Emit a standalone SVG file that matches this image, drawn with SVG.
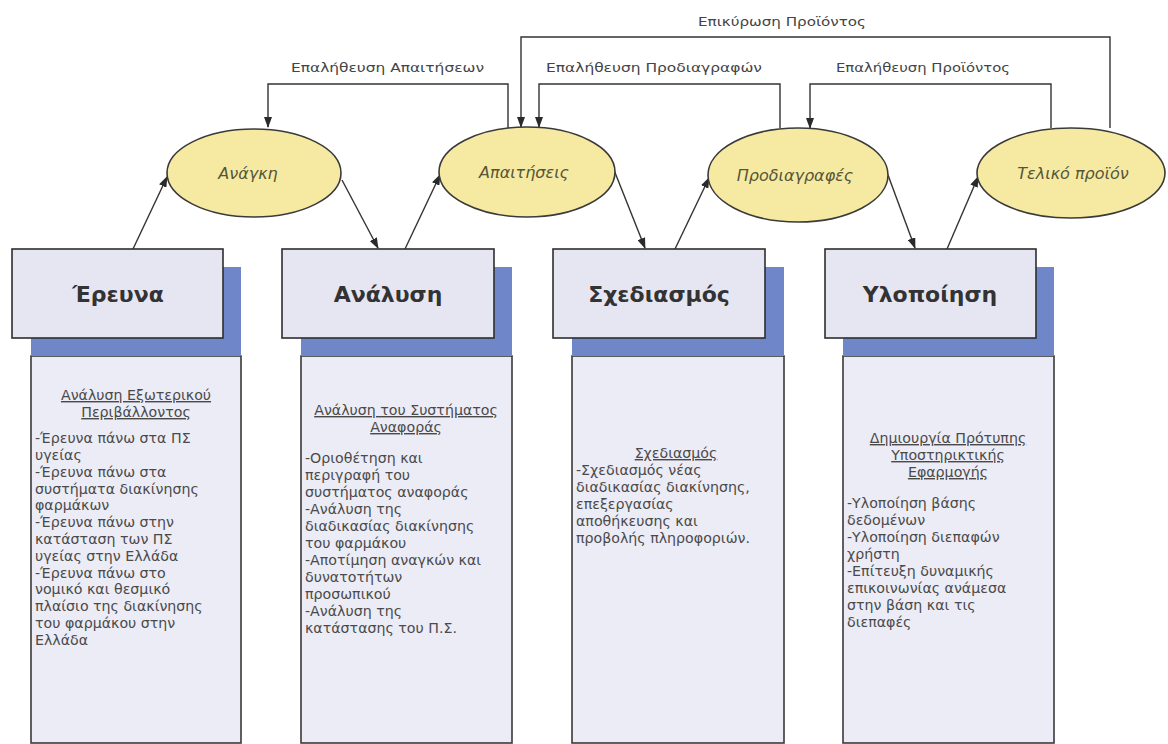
<svg xmlns="http://www.w3.org/2000/svg" width="1168" height="744" viewBox="0 0 1168 744">
<style>
.lbl{font-family:"DejaVu Sans",sans-serif;font-size:12px;fill:#444}
.ell{fill:#f6eaa2;stroke:#3a3a3a;stroke-width:1.6}
.etx{font-family:"DejaVu Sans",sans-serif;font-style:italic;font-size:16px;fill:#555538;text-anchor:middle}
.box{fill:#e6e6f3;stroke:#2e2e2e;stroke-width:1.6}
.shd{fill:#6f86c9}
.col{fill:#ececf6;stroke:#3a3a3a;stroke-width:1.6}
.htx{font-family:"DejaVu Sans",sans-serif;font-weight:bold;font-size:22px;fill:#333;text-anchor:middle}
.ctx{font-family:"DejaVu Sans",sans-serif;font-size:14.2px;fill:#4a4a4a}
.chd{text-anchor:middle;text-decoration:underline}
.con{fill:none;stroke:#333;stroke-width:1.4}
</style>
<defs>
<marker id="ah" markerUnits="userSpaceOnUse" markerWidth="11" markerHeight="8" refX="10" refY="4" orient="auto">
<path d="M0,0 L11,4 L0,8 z" fill="#2a2a2a"/>
</marker>
</defs>
<rect width="1168" height="744" fill="#ffffff"/>

<g id="connectors">
<path class="con" d="M508,128 V84 H268 V127" marker-end="url(#ah)"/>
<path class="con" d="M1110,128 V37 H521 V127" marker-end="url(#ah)"/>
<path class="con" d="M780,128 V84 H539 V127" marker-end="url(#ah)"/>
<path class="con" d="M1051,128 V84 H810 V128" marker-end="url(#ah)"/>
<line class="con" x1="133" y1="249" x2="167" y2="177" marker-end="url(#ah)"/>
<line class="con" x1="342" y1="180" x2="378" y2="248" marker-end="url(#ah)"/>
<line class="con" x1="405" y1="249" x2="440" y2="175" marker-end="url(#ah)"/>
<line class="con" x1="614" y1="170" x2="645" y2="248" marker-end="url(#ah)"/>
<line class="con" x1="675" y1="249" x2="709" y2="178" marker-end="url(#ah)"/>
<line class="con" x1="888" y1="175" x2="915" y2="248" marker-end="url(#ah)"/>
<line class="con" x1="947" y1="249" x2="978" y2="177" marker-end="url(#ah)"/>
<text class="lbl" x="698" y="26" textLength="168" lengthAdjust="spacingAndGlyphs">Επικύρωση Προϊόντος</text>
<text class="lbl" x="291" y="72" textLength="193" lengthAdjust="spacingAndGlyphs">Επαλήθευση Απαιτήσεων</text>
<text class="lbl" x="546" y="72" textLength="216" lengthAdjust="spacingAndGlyphs">Επαλήθευση Προδιαγραφών</text>
<text class="lbl" x="836" y="72" textLength="174" lengthAdjust="spacingAndGlyphs">Επαλήθευση Προϊόντος</text>
</g>

<g id="anagki">
<ellipse class="ell" cx="254" cy="173" rx="87" ry="44"/>
<text class="etx" x="248" y="179">Ανάγκη</text>
</g>
<g id="apaitiseis">
<ellipse class="ell" cx="527" cy="172" rx="88" ry="45"/>
<text class="etx" x="524" y="178">Απαιτήσεις</text>
</g>
<g id="prodiagrafes">
<ellipse class="ell" cx="798" cy="175" rx="90" ry="47"/>
<text class="etx" x="795" y="181">Προδιαγραφές</text>
</g>
<g id="teliko">
<ellipse class="ell" cx="1071" cy="173" rx="94" ry="45"/>
<text class="etx" x="1073" y="179">Τελικό προϊόν</text>
</g>

<g id="erevna">
<rect class="col" x="31" y="356" width="210" height="387"/>
<rect class="shd" x="31" y="267" width="210" height="89"/>
<rect class="box" x="12" y="249" width="211" height="89"/>
<text class="htx" x="118" y="302">Έρευνα</text>
<text class="ctx chd" x="136" y="400">Ανάλυση Εξωτερικού</text>
<text class="ctx chd" x="136" y="417">Περιβάλλοντος</text>
<text class="ctx" x="35" y="443">-Έρευνα πάνω στα ΠΣ</text>
<text class="ctx" x="35" y="460">υγείας</text>
<text class="ctx" x="35" y="477">-Έρευνα πάνω στα</text>
<text class="ctx" x="35" y="494">συστήματα διακίνησης</text>
<text class="ctx" x="35" y="510">φαρμάκων</text>
<text class="ctx" x="35" y="527">-Έρευνα πάνω στην</text>
<text class="ctx" x="35" y="544">κατάσταση των ΠΣ</text>
<text class="ctx" x="35" y="561">υγείας στην Ελλάδα</text>
<text class="ctx" x="35" y="578">-Έρευνα πάνω στο</text>
<text class="ctx" x="35" y="594">νομικό και θεσμικό</text>
<text class="ctx" x="35" y="611">πλαίσιο της διακίνησης</text>
<text class="ctx" x="35" y="628">του φαρμάκου στην</text>
<text class="ctx" x="35" y="645">Ελλάδα</text>
</g>

<g id="analysi">
<rect class="col" x="301" y="356" width="211" height="387"/>
<rect class="shd" x="301" y="267" width="211" height="89"/>
<rect class="box" x="282" y="249" width="212" height="89"/>
<text class="htx" x="388" y="302">Ανάλυση</text>
<text class="ctx chd" x="406" y="415">Ανάλυση του Συστήματος</text>
<text class="ctx chd" x="406" y="432">Αναφοράς</text>
<text class="ctx" x="305" y="463">-Οριοθέτηση και</text>
<text class="ctx" x="305" y="480">περιγραφή του</text>
<text class="ctx" x="305" y="497">συστήματος αναφοράς</text>
<text class="ctx" x="305" y="514">-Ανάλυση της</text>
<text class="ctx" x="305" y="531">διαδικασίας διακίνησης</text>
<text class="ctx" x="305" y="548">του φαρμάκου</text>
<text class="ctx" x="305" y="565">-Αποτίμηση αναγκών και</text>
<text class="ctx" x="305" y="582">δυνατοτήτων</text>
<text class="ctx" x="305" y="599">προσωπικού</text>
<text class="ctx" x="305" y="616">-Ανάλυση της</text>
<text class="ctx" x="305" y="633">κατάστασης του Π.Σ.</text>
</g>

<g id="schediasmos">
<rect class="col" x="572" y="356" width="212" height="387"/>
<rect class="shd" x="572" y="267" width="212" height="89"/>
<rect class="box" x="553" y="249" width="212" height="89"/>
<text class="htx" x="659" y="302">Σχεδιασμός</text>
<text class="ctx chd" x="676" y="458">Σχεδιασμός</text>
<text class="ctx" x="576" y="475">-Σχεδιασμός νέας</text>
<text class="ctx" x="576" y="492">διαδικασίας διακίνησης,</text>
<text class="ctx" x="576" y="509">επεξεργασίας</text>
<text class="ctx" x="576" y="526">αποθήκευσης και</text>
<text class="ctx" x="576" y="543">προβολής πληροφοριών.</text>
</g>

<g id="ylopoiisi">
<rect class="col" x="843" y="356" width="211" height="387"/>
<rect class="shd" x="843" y="267" width="211" height="89"/>
<rect class="box" x="825" y="249" width="211" height="89"/>
<text class="htx" x="930" y="302">Υλοποίηση</text>
<text class="ctx chd" x="948" y="443">Δημιουργία Πρότυπης</text>
<text class="ctx chd" x="948" y="460">Υποστηρικτικής</text>
<text class="ctx chd" x="948" y="477">Εφαρμογής</text>
<text class="ctx" x="847" y="508">-Υλοποίηση βάσης</text>
<text class="ctx" x="847" y="525">δεδομένων</text>
<text class="ctx" x="847" y="542">-Υλοποίηση διεπαφών</text>
<text class="ctx" x="847" y="559">χρήστη</text>
<text class="ctx" x="847" y="576">-Επίτευξη δυναμικής</text>
<text class="ctx" x="847" y="593">επικοινωνίας ανάμεσα</text>
<text class="ctx" x="847" y="610">στην βάση και τις</text>
<text class="ctx" x="847" y="627">διεπαφές</text>
</g>
</svg>
